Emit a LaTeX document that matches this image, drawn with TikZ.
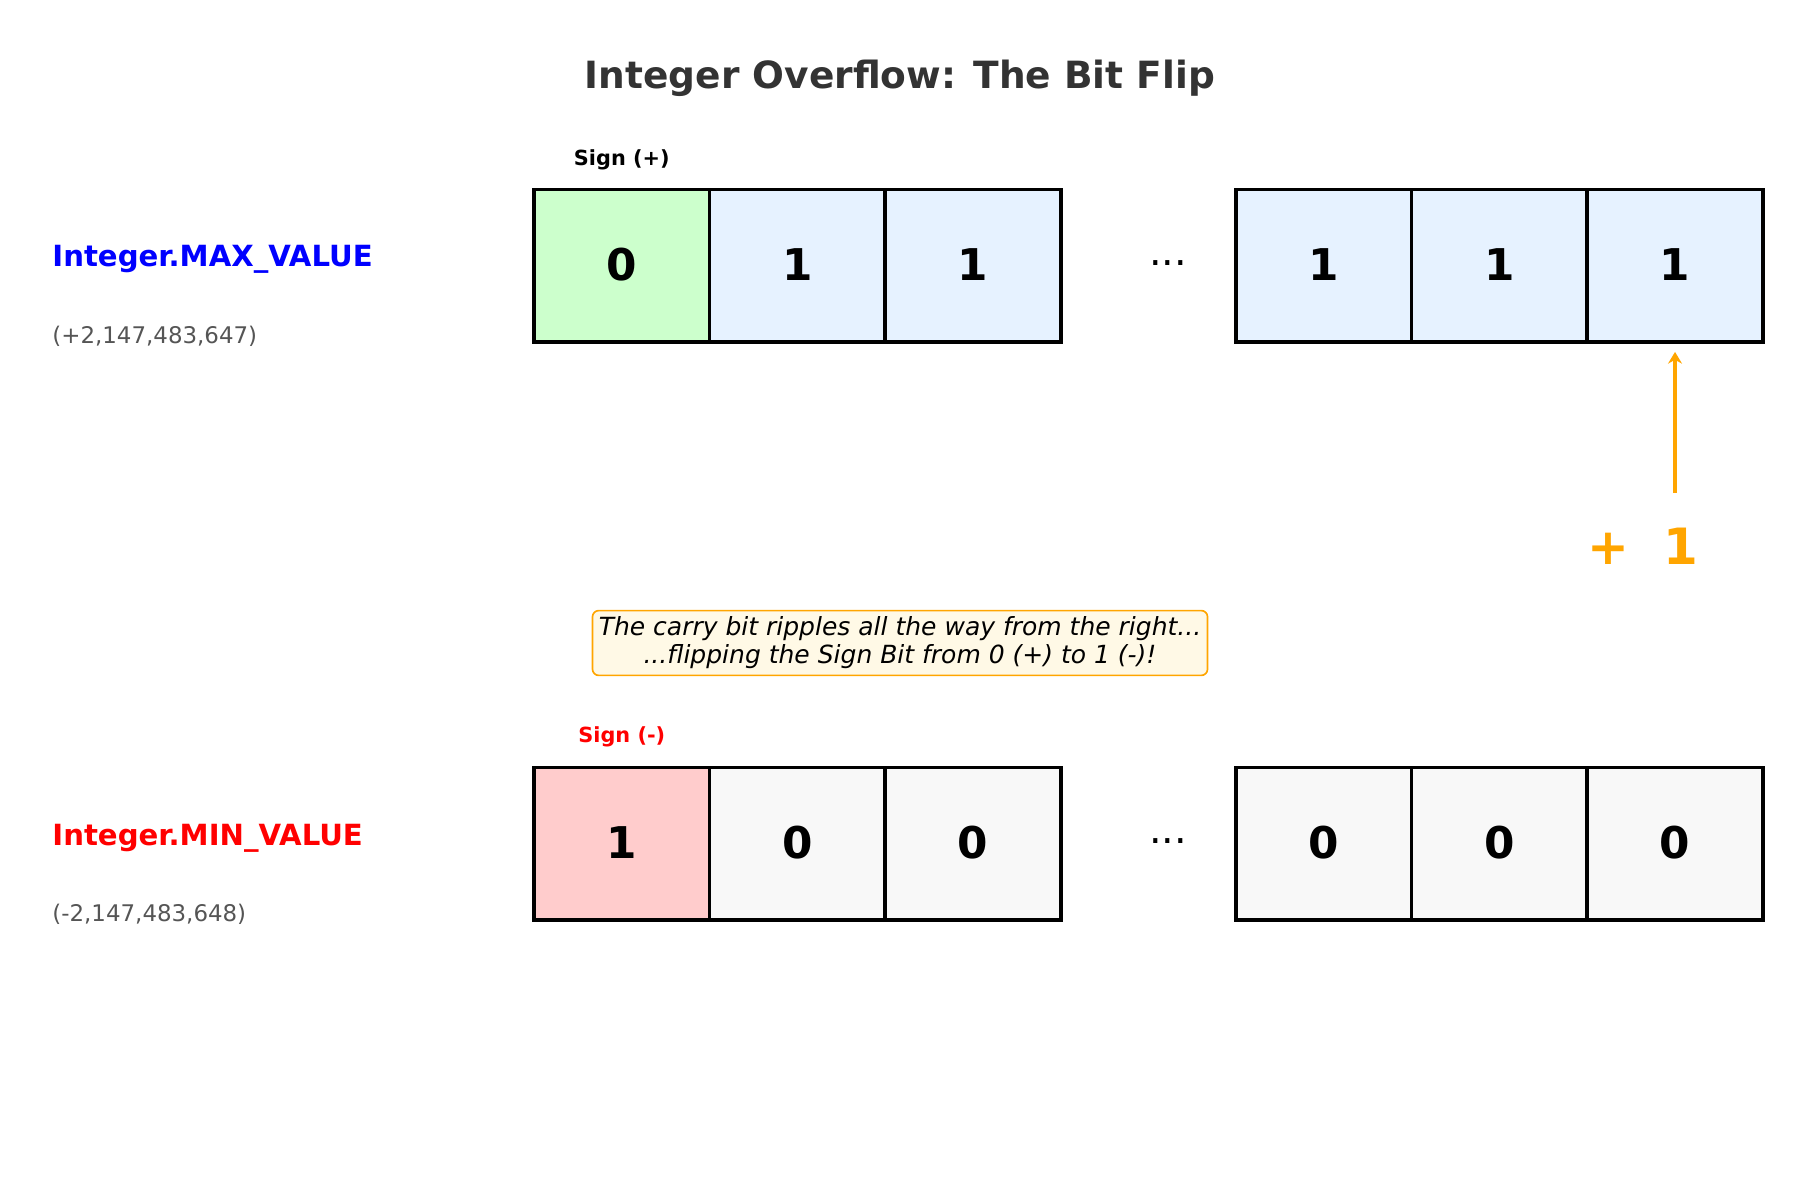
\documentclass[tikz,border=0pt]{standalone}
\usepackage{fontspec}
\setmainfont{DejaVu Sans}
\usetikzlibrary{arrows.meta}
\definecolor{titlegray}{HTML}{333333}
\definecolor{subgray}{HTML}{555555}
\definecolor{signpos}{HTML}{CCFFCC}
\definecolor{signneg}{HTML}{FFCCCC}
\definecolor{onefill}{HTML}{E6F2FF}
\definecolor{zerofill}{HTML}{F8F8F8}
\definecolor{myorange}{HTML}{FFA500}
\definecolor{notefill}{HTML}{FFF9E6}
\definecolor{myblue}{HTML}{0000FF}
\definecolor{myred}{HTML}{FF0000}
\newcommand{\bitval}[1]{\raisebox{1.4pt}{#1}}
\tikzset{
  cell/.style={draw=black, line width=1.7pt, minimum width=84.3pt, minimum height=73.4pt,
    inner sep=0pt, font=\fontsize{21}{25}\selectfont\bfseries},
  biglabel/.style={anchor=west, font=\fontsize{14}{17}\selectfont\bfseries, inner sep=0pt},
  sublabel/.style={anchor=west, font=\fontsize{11}{13}\selectfont, text=subgray, inner sep=0pt},
  signlabel/.style={font=\fontsize{10}{12}\selectfont\bfseries, inner sep=0pt},
  dotslabel/.style={font=\fontsize{19}{21}\selectfont, inner sep=0pt},
  notebox/.style={draw=myorange, fill=notefill, line width=0.8pt, rounded corners=3pt,
    align=center, font=\fontsize{12}{13.5}\selectfont\itshape, inner xsep=3pt, inner ysep=3pt},
  arr/.style={draw=myorange, line width=1.9pt, -{Stealth[length=5.6pt,width=6.7pt]}}
}
\begin{document}
\begin{tikzpicture}[x=0.48pt,y=-0.48pt]
\useasboundingbox (0,0) rectangle (1800,1200);
% title
\node[font=\fontsize{18}{22}\selectfont\bfseries, text=titlegray] (title) at (900,78.5) {Integer Overflow: The Bit Flip};
% row 1
\node[biglabel, text=myblue] (maxl) at (52,259.5) {Integer.MAX\_VALUE};
\node[sublabel] (maxv) at (52,336) {(+2,147,483,647)};
\node[signlabel, text=black] (signp) at (621.8,160) {Sign (+)};
\node[cell, fill=signpos] (a1) at (621.8,265.8) {\bitval{0}};
\node[cell, fill=onefill] (a2) at (797.4,265.8) {\bitval{1}};
\node[cell, fill=onefill] (a3) at (973.0,265.8) {\bitval{1}};
\node[dotslabel] (adots) at (1168,263) {...};
\node[cell, fill=onefill] (a4) at (1323.8,265.8) {\bitval{1}};
\node[cell, fill=onefill] (a5) at (1499.4,265.8) {\bitval{1}};
\node[cell, fill=onefill] (a6) at (1675.0,265.8) {\bitval{1}};
% plus one
\node[font=\fontsize{24}{28}\selectfont\bfseries, text=myorange, inner sep=0pt] (plus) at (1643,546) {+\ \ 1};
\coordinate (arrstart) at (1675,493);
\draw[arr] (arrstart) -- ([yshift=-3.8pt]a6.south);
% note
\node[notebox] (note) at (900,643) {The carry bit ripples all the way from the right...\\...flipping the Sign Bit from 0 (+) to 1 (-)!};
% row 2
\node[biglabel, text=myred] (minl) at (52,838.5) {Integer.MIN\_VALUE};
\node[sublabel] (minv) at (52,914) {(-2,147,483,648)};
\node[signlabel, text=myred] (signn) at (621.8,737) {Sign (-)};
\node[cell, fill=signneg] (b1) at (621.8,843.8) {\bitval{1}};
\node[cell, fill=zerofill] (b2) at (797.4,843.8) {\bitval{0}};
\node[cell, fill=zerofill] (b3) at (973.0,843.8) {\bitval{0}};
\node[dotslabel] (bdots) at (1168,841) {...};
\node[cell, fill=zerofill] (b4) at (1323.8,843.8) {\bitval{0}};
\node[cell, fill=zerofill] (b5) at (1499.4,843.8) {\bitval{0}};
\node[cell, fill=zerofill] (b6) at (1675.0,843.8) {\bitval{0}};
\end{tikzpicture}
\end{document}
